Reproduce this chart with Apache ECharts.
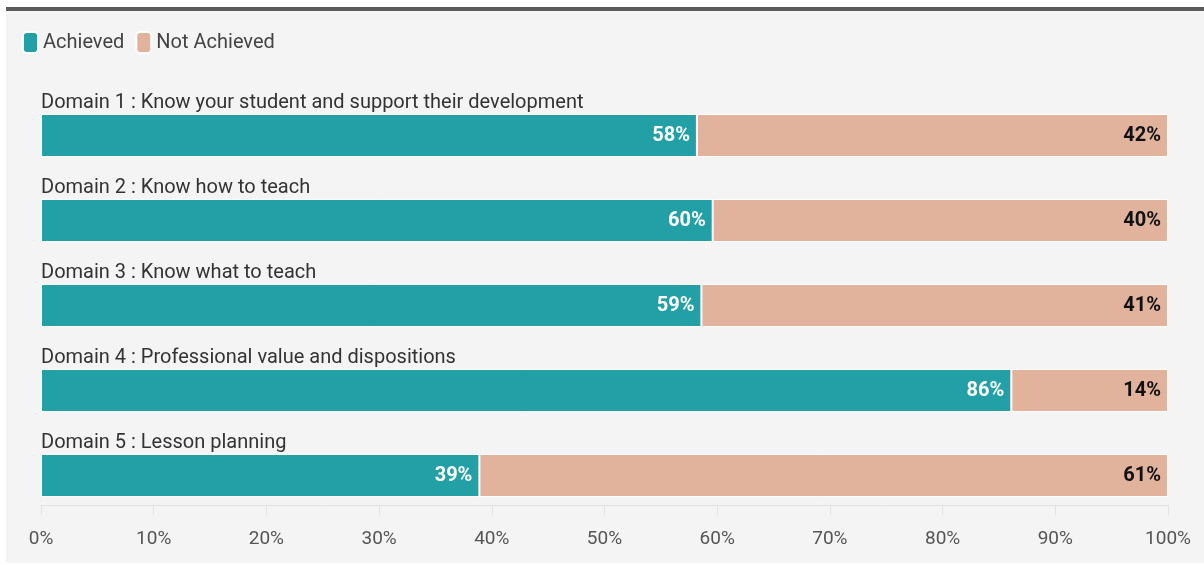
<!DOCTYPE html>
<html>
<head>
<meta charset="utf-8">
<script src="https://cdn.jsdelivr.net/npm/echarts@6/dist/echarts.min.js"></script>
<style>
html,body{margin:0;padding:0;background:#fff;}
#bg{position:absolute;left:6px;top:7px;width:1198px;height:552px;background:#f4f4f4;border-top:4px solid #5b5b5b;}
#chart{position:absolute;left:0;top:0;width:1204px;height:565px;}
</style>
</head>
<body>
<div id="bg"></div>
<div id="chart"></div>
<script>
const categories = [
  'Domain 1 : Know your student and support their development',
  'Domain 2 : Know how to teach',
  'Domain 3 : Know what to teach',
  'Domain 4 : Professional value and dispositions',
  'Domain 5 : Lesson planning'
];
const achieved = [58.2, 59.6, 58.6, 86.1, 38.9];
const notAchieved = [41.8, 40.4, 41.4, 13.9, 61.1];
const xTicks = [0, 10, 20, 30, 40, 50, 60, 70, 80, 90, 100];

const FONT = 'Roboto';
const chart = echarts.init(document.getElementById('chart'), null, {renderer: 'canvas'});
chart.setOption({
  backgroundColor: 'transparent',
  textStyle: {fontFamily: FONT},
  legend: {
    left: 22, top: 31, padding: 0,
    itemWidth: 15, itemHeight: 21, itemGap: 11,
    icon: 'roundRect',
    textStyle: {fontSize: 20, color: '#444', fontFamily: FONT},
    data: ['Achieved', 'Not Achieved']
  },
  grid: {left: 41, right: 36, top: 93, bottom: 47, containLabel: false},
  xAxis: {
    type: 'value', min: 0, max: 100, interval: 10,
    offset: -13,
    axisLine: {show: true, lineStyle: {color: '#e2e2e2', width: 1}},
    axisTick: {show: true, length: 10, lineStyle: {color: '#e2e2e2'}},
    splitLine: {show: false},
    axisLabel: {
      margin: 25, fontSize: 19, color: '#555', fontFamily: FONT,
      formatter: v => xTicks.includes(v) ? v + '%' : ''
    }
  },
  yAxis: {
    type: 'category', inverse: true, data: categories,
    axisLine: {show: false}, axisTick: {show: false},
    axisLabel: {
      inside: true, align: 'left', verticalAlign: 'bottom',
      margin: 0, padding: [0, 0, 23, 0],
      fontSize: 20, color: '#333', fontFamily: FONT
    }
  },
  series: [
    {
      name: 'Achieved', type: 'bar', stack: 'total', barWidth: 43,
      data: achieved,
      itemStyle: {color: '#22a0a5', borderColor: '#ffffff', borderWidth: 1},
      label: {
        show: true, position: 'insideRight', distance: 7,
        color: '#fff', fontWeight: 'bold', fontSize: 20, fontFamily: FONT,
        formatter: p => Math.round(p.value) + '%'
      }
    },
    {
      name: 'Not Achieved', type: 'bar', stack: 'total', barWidth: 43,
      data: notAchieved,
      itemStyle: {color: '#e2b39c', borderColor: '#ffffff', borderWidth: 1},
      label: {
        show: true, position: 'insideRight', distance: 7,
        color: '#111', fontWeight: 'bold', fontSize: 20, fontFamily: FONT,
        formatter: p => Math.round(p.value) + '%'
      }
    }
  ]
});
</script>
</body>
</html>
